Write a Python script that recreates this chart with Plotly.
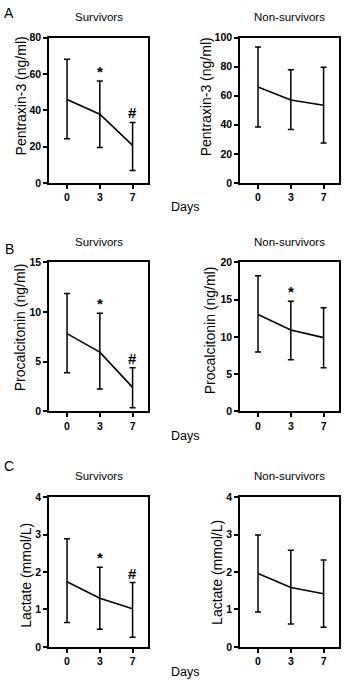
import plotly.graph_objects as go

days = ["0", "3", "7"]

# Pentraxin-3 (ng/ml)
ptx_surv_mean = [46.0, 37.8, 20.7]
ptx_surv_upper = [68.1, 56.2, 33.3]
ptx_surv_lower = [24.3, 19.5, 6.8]
ptx_non_mean = [66.1, 57.1, 53.5]
ptx_non_upper = [93.6, 77.9, 79.7]
ptx_non_lower = [38.4, 36.8, 27.5]

# Procalcitonin (ng/ml)
pct_surv_mean = [7.83, 5.96, 2.41]
pct_surv_upper = [11.88, 9.87, 4.38]
pct_surv_lower = [3.89, 2.24, 0.36]
pct_non_mean = [13.0, 10.93, 9.9]
pct_non_upper = [18.2, 14.78, 13.9]
pct_non_lower = [7.96, 6.94, 5.84]

# Lactate (mmol/L)
lac_surv_mean = [1.74, 1.30, 1.02]
lac_surv_upper = [2.89, 2.13, 1.72]
lac_surv_lower = [0.65, 0.47, 0.26]
lac_non_mean = [1.96, 1.59, 1.42]
lac_non_upper = [2.99, 2.58, 2.32]
lac_non_lower = [0.935, 0.61, 0.525]

# significance marks (per day)
ptx_surv_marks = ["", "*", "#"]
ptx_non_marks = ["", "", ""]
pct_surv_marks = ["", "*", "#"]
pct_non_marks = ["", "*", ""]
lac_surv_marks = ["", "*", "#"]
lac_non_marks = ["", "", ""]

y_titles = ["Pentraxin-3 (ng/ml)", "Procalcitonin (ng/ml)", "Lactate (mmol/L)"]
group_titles = ["Survivors", "Non-survivors"]
panel_letters = ["A", "B", "C"]
x_title = "Days"

y_ranges = [[0, 80], [0, 100], [0, 15], [0, 20], [0, 4], [0, 4]]
y_dticks = [20, 20, 5, 5, 1, 1]

panels = [
    (ptx_surv_mean, ptx_surv_upper, ptx_surv_lower, ptx_surv_marks),
    (ptx_non_mean, ptx_non_upper, ptx_non_lower, ptx_non_marks),
    (pct_surv_mean, pct_surv_upper, pct_surv_lower, pct_surv_marks),
    (pct_non_mean, pct_non_upper, pct_non_lower, pct_non_marks),
    (lac_surv_mean, lac_surv_upper, lac_surv_lower, lac_surv_marks),
    (lac_non_mean, lac_non_upper, lac_non_lower, lac_non_marks),
]

W, H = 345, 686
FONT = "Arial, Liberation Sans, sans-serif"

# pixel geometry
x_px = [(49, 148), (240, 339)]
y_px = [(32.3, 180), (261, 412.5), (500, 652.3)]
ytitle_pos = [(21, 92), (206, 93), (20, 327), (210, 330), (26, 580), (217, 577)]

fig = go.Figure()
layout = dict(
    width=W, height=H,
    margin=dict(l=0, r=0, t=0, b=0),
    paper_bgcolor="white", plot_bgcolor="white",
    showlegend=False,
    font=dict(family=FONT, color="black"),
)
annotations = []

for i, (mean, up, lo, marks) in enumerate(panels):
    row, col = divmod(i, 2)
    n = i + 1
    xa = "x" if n == 1 else f"x{n}"
    ya = "y" if n == 1 else f"y{n}"
    err_plus = [u - m for u, m in zip(up, mean)]
    err_minus = [m - l for m, l in zip(mean, lo)]
    fig.add_trace(go.Scatter(
        x=days, y=mean, mode="lines",
        line=dict(color="black", width=1.6),
        error_y=dict(type="data", symmetric=False, array=err_plus,
                     arrayminus=err_minus, color="black", thickness=1.5, width=3),
        xaxis=xa, yaxis=ya, cliponaxis=False,
    ))
    x0, x1 = x_px[col]
    yt, yb = y_px[row]
    axis_common = dict(showline=True, linecolor="black", linewidth=1.5,
                       mirror=True, ticks="outside", ticklen=4, tickwidth=1.5,
                       tickcolor="black", showgrid=False, zeroline=False,
                       tickfont=dict(family=FONT, size=10.5, color="black", weight="bold"))
    layout["xaxis" if n == 1 else f"xaxis{n}"] = dict(
        domain=[x0 / W, x1 / W], anchor=ya, type="category",
        range=[-0.55, 2.47], **axis_common)
    layout["yaxis" if n == 1 else f"yaxis{n}"] = dict(
        domain=[1 - yb / H, 1 - yt / H], anchor=xa,
        range=y_ranges[i], dtick=y_dticks[i], tick0=0, **axis_common)
    # significance marks
    for j, (m, u) in enumerate(zip(marks, up)):
        if m:
            annotations.append(dict(
                x=j, y=u, xref=xa, yref=ya, text=m, showarrow=False,
                xanchor="center", yanchor="bottom", yshift=-1,
                font=dict(family=FONT, size=15, color="black", weight="bold")))
    # y title
    tx, ty = ytitle_pos[i]
    annotations.append(dict(
        x=tx / W, y=1 - ty / H, xref="paper", yref="paper",
        text=y_titles[row], textangle=-90, showarrow=False,
        xanchor="center", yanchor="middle",
        font=dict(family=FONT, size=14, color="black")))

title_y = [11, 240, 478]
days_y = [205, 438, 678]
letter_y = [7, 247, 468]
for row in range(3):
    for col in range(2):
        x0, x1 = x_px[col]
        annotations.append(dict(
            x=(x0 + x1) / 2 / W, y=1 - title_y[row] / H, xref="paper", yref="paper",
            text=group_titles[col], showarrow=False, xanchor="center", yanchor="middle",
            font=dict(family=FONT, size=11.5, color="black")))
    annotations.append(dict(
        x=185 / W, y=1 - days_y[row] / H, xref="paper", yref="paper",
        text=x_title, showarrow=False, xanchor="center", yanchor="middle",
        font=dict(family=FONT, size=12.5, color="black")))
    annotations.append(dict(
        x=9 / W, y=1 - letter_y[row] / H, xref="paper", yref="paper",
        text=panel_letters[row], showarrow=False, xanchor="center", yanchor="middle",
        font=dict(family=FONT, size=14, color="black")))

layout["annotations"] = annotations
fig.update_layout(**layout)
fig.write_html("out.html", config={"displayModeBar": False},
               post_script="document.body.style.margin='0';")
